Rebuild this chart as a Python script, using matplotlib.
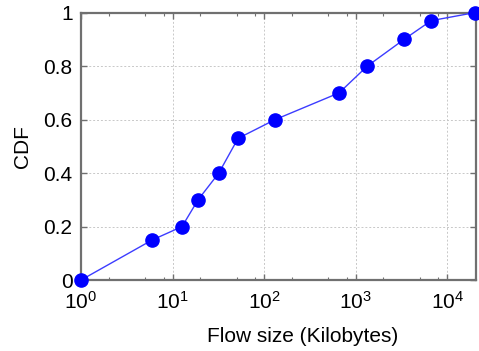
import matplotlib
matplotlib.use("Agg")
import matplotlib.pyplot as plt
from matplotlib.ticker import LogLocator, FixedLocator, NullFormatter

# data
flow_size_kb = [1, 6, 12.7, 19, 32, 52, 132, 660, 1340, 3380, 6680, 20000]
cdf = [0.0, 0.15, 0.2, 0.3, 0.4, 0.53, 0.6, 0.7, 0.8, 0.9, 0.97, 1.0]
y_ticks = [0, 0.2, 0.4, 0.6, 0.8, 1]
y_tick_labels = ["0", "0.2", "0.4", "0.6", "0.8", "1"]

plt.rcParams['font.family'] = ['Liberation Sans', 'DejaVu Sans']
plt.rcParams['mathtext.default'] = 'regular'

fig = plt.figure(figsize=(4.79, 3.51), dpi=100)
ax = fig.add_axes([0.169, 0.202, 0.825, 0.762])

ax.plot(flow_size_kb, cdf, color='#3c3cff', lw=1.0, zorder=3,
        clip_on=False)
ax.plot(flow_size_kb, cdf, ls='none', marker='o', ms=9.5, color='#0000ff',
        zorder=4, clip_on=False)

ax.set_xscale('log')
ax.set_xlim(1, 2.07e4)
ax.set_ylim(0, 1)
ax.xaxis.set_major_locator(LogLocator(base=10, numticks=10))
ax.xaxis.set_minor_locator(LogLocator(base=10, subs=(2, 5, 8), numticks=10))
ax.xaxis.set_minor_formatter(NullFormatter())
ax.yaxis.set_major_locator(FixedLocator(y_ticks))
ax.set_yticklabels(y_tick_labels)

ax.grid(True, which='major', ls=(0, (2, 2)), color='#c8c8c8', lw=0.7)
ax.set_axisbelow(True)

for sp in ax.spines.values():
    sp.set_color('#707070')
    sp.set_linewidth(1.6)

ax.tick_params(which='both', direction='in', top=True, right=True,
               colors='#707070', labelcolor='black', labelsize=15)
ax.tick_params(which='major', length=4, width=1.0, pad=6)
ax.tick_params(which='minor', length=2.5, width=0.8)
ax.tick_params(axis='x', which='major', pad=8)

ax.set_xlabel('Flow size (Kilobytes)', fontsize=15)
ax.xaxis.set_label_coords(0.562, -0.175)
ax.set_ylabel('CDF', fontsize=15, labelpad=8)

fig.savefig('out.png', dpi=100)
